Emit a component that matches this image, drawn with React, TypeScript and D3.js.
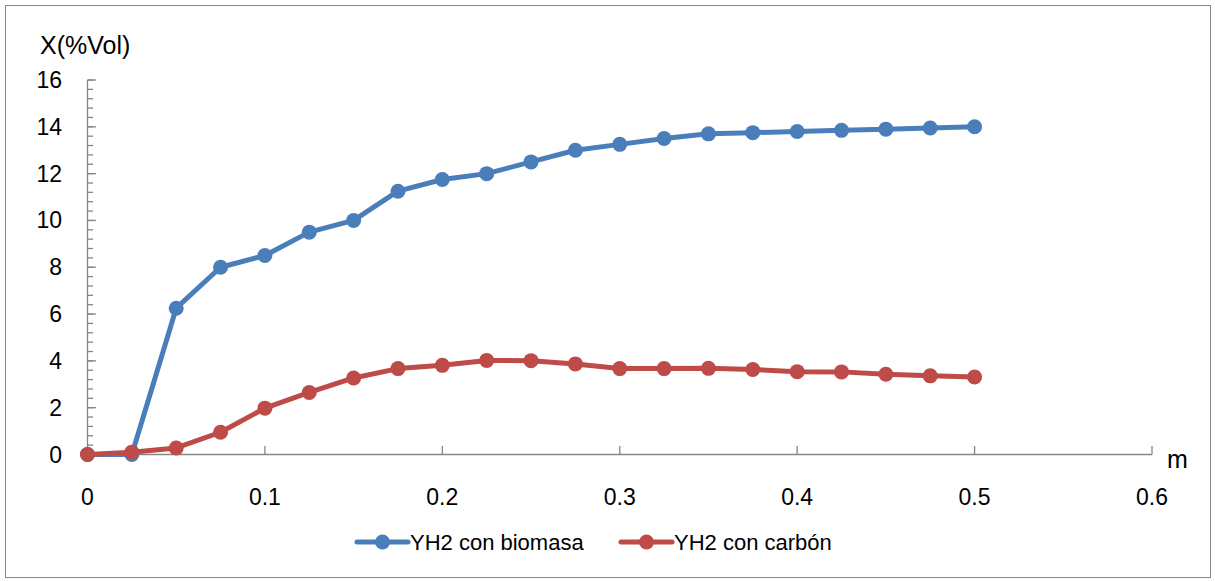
import React from "react";
import * as d3 from "d3";

// Bed height (m) and H2 fraction (%Vol) for two feedstocks
const positions = [0, 0.025, 0.05, 0.075, 0.1, 0.125, 0.15, 0.175, 0.2, 0.225, 0.25, 0.275, 0.3, 0.325, 0.35, 0.375, 0.4, 0.425, 0.45, 0.475, 0.5];
const biomasa = [0, 0, 6.25, 8.0, 8.5, 9.5, 10.0, 11.25, 11.75, 12.0, 12.5, 13.0, 13.25, 13.5, 13.7, 13.75, 13.8, 13.85, 13.9, 13.95, 14.0];
const carbon = [0, 0.1, 0.28, 0.95, 1.98, 2.65, 3.27, 3.67, 3.81, 4.02, 4.01, 3.87, 3.67, 3.67, 3.68, 3.63, 3.54, 3.53, 3.43, 3.36, 3.31];

const xTicks = [0, 0.1, 0.2, 0.3, 0.4, 0.5, 0.6];
const yTicks = [0, 2, 4, 6, 8, 10, 12, 14, 16];

const seriesNames = ["YH2 con biomasa", "YH2 con carbón"];
const seriesColors = ["#4A7EBB", "#BE4B48"];

const W = 1215;
const H = 581;
const FONT = "'Liberation Sans', Arial, sans-serif";

export default function App() {
  const x = d3.scaleLinear().domain([0, 0.6]).range([87.5, 1152]);
  const y = d3.scaleLinear().domain([0, 16]).range([454.5, 80]);
  const minorY = d3.range(0, 16.0001, 0.4);

  const line = d3
    .line<[number, number]>()
    .x((d) => x(d[0]))
    .y((d) => y(d[1]));

  const series = [biomasa, carbon].map((vals) =>
    positions.map((p, i) => [p, vals[i]] as [number, number])
  );

  const axisColor = "#868686";

  return (
    <svg
      width={W}
      height={H}
      style={{ position: "absolute", left: 0, top: 0, background: "#fff" }}
      fontFamily={FONT}
    >
      <rect x={0} y={0} width={W} height={H} fill="#fff" />
      <rect x={5.5} y={5.5} width={1205} height={572} fill="none" stroke={axisColor} strokeWidth={1} />

      {/* y axis */}
      <line x1={x(0)} x2={x(0)} y1={y(16)} y2={y(0)} stroke={axisColor} strokeWidth={1.3} />
      {minorY.map((v, i) => (
        <line key={"mn" + i} x1={x(0)} x2={x(0) + 5.5} y1={y(v)} y2={y(v)} stroke={axisColor} strokeWidth={1.3} />
      ))}
      {yTicks.map((v) => (
        <g key={"yt" + v}>
          <line x1={x(0)} x2={x(0) + 8.5} y1={y(v)} y2={y(v)} stroke={axisColor} strokeWidth={1.3} />
          <text x={62} y={y(v) + 8} textAnchor="end" fontSize={23} fill="#000">
            {v}
          </text>
        </g>
      ))}

      {/* x axis */}
      <line x1={x(0)} x2={x(0.6)} y1={y(0)} y2={y(0)} stroke={axisColor} strokeWidth={1.3} />
      {xTicks.map((v) => (
        <g key={"xt" + v}>
          <line x1={x(v)} x2={x(v)} y1={y(0)} y2={y(0) - 8.5} stroke={axisColor} strokeWidth={1.3} />
          <text x={x(v)} y={505} textAnchor="middle" fontSize={23} fill="#000">
            {v === 0 ? "0" : String(v)}
          </text>
        </g>
      ))}

      <text x={40} y={54} fontSize={25} fill="#000">X(%Vol)</text>
      <text x={1167} y={468} fontSize={25} fill="#000">m</text>

      {/* series */}
      {series.map((pts, si) => (
        <g key={"s" + si}>
          <path d={line(pts) ?? ""} fill="none" stroke={seriesColors[si]} strokeWidth={5} strokeLinejoin="round" />
          {pts.map((p, i) => (
            <circle key={i} cx={x(p[0])} cy={y(p[1])} r={7.5} fill={seriesColors[si]} />
          ))}
        </g>
      ))}

      {/* legend */}
      {seriesNames.map((name, i) => {
        const x0 = i === 0 ? 357 : 621;
        return (
          <g key={"lg" + i}>
            <line x1={x0} x2={x0 + 51} y1={542} y2={542} stroke={seriesColors[i]} strokeWidth={5} strokeLinecap="round" />
            <circle cx={x0 + 25.5} cy={542} r={7.5} fill={seriesColors[i]} />
            <text x={x0 + 53} y={550} fontSize={22} fill="#000">
              {name}
            </text>
          </g>
        );
      })}
    </svg>
  );
}
